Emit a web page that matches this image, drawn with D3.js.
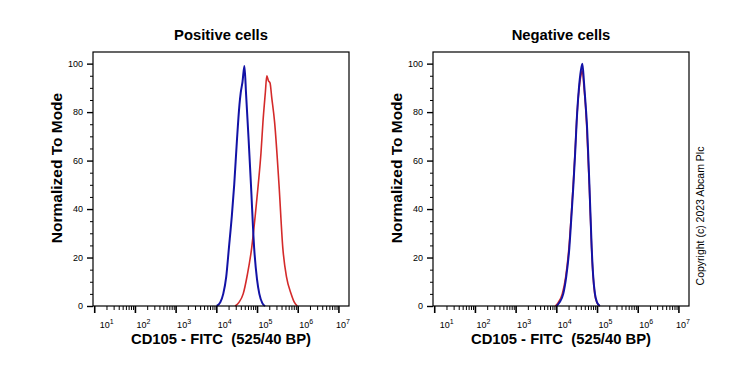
<!DOCTYPE html>
<html>
<head>
<meta charset="utf-8">
<script src="https://cdn.jsdelivr.net/npm/d3@7"></script>
<style>
  body { margin: 0; background: #fff; }
  text { font-family: "Liberation Sans", Arial, sans-serif; }
</style>
</head>
<body>
<script>
// panel titles and axis text
let titles = ['Positive cells', 'Negative cells'];
let xTitle = 'CD105 - FITC  (525/40 BP)';
let yTitle = 'Normalized To Mode';
let decades = [1, 2, 3, 4, 5, 6, 7];
let yTicks = [0, 20, 40, 60, 80, 100];

// positive cells: blue (control) and red (stained)
let posBlueX = [1.02e4, 1.25e4, 1.48e4, 1.75e4, 2.04e4, 2.4e4, 2.75e4, 3.2e4, 3.7e4, 3.98e4, 4.4e4, 4.9e4, 5.4e4, 6.2e4, 7.1e4, 8.5e4, 1.0e5, 1.14e5, 1.35e5, 1.58e5];
let posBlueY = [0, 1.5, 5, 12, 24, 37, 50, 68, 83, 88, 92.5, 99, 87, 69, 50, 24, 11, 5, 1.2, 0];
let posRedX = [2.9e4, 3.6e4, 4.57e4, 5.8e4, 7.4e4, 9.0e4, 1.07e5, 1.25e5, 1.4e5, 1.6e5, 1.74e5, 1.9e5, 2.09e5, 2.3e5, 2.7e5, 3.47e5, 4.3e5, 5.3e5, 6.9e5, 8.3e5, 9.8e5];
let posRedY = [0, 1.5, 5, 13, 24, 37, 50, 63, 76, 88, 95, 93, 92, 86, 76, 50, 24, 12, 5, 1.5, 0];

// negative cells
let negBlueX = [1.02e4, 1.2e4, 1.48e4, 1.75e4, 2.09e4, 2.35e4, 2.63e4, 2.9e4, 3.16e4, 3.6e4, 4.0e4, 4.37e4, 4.8e4, 5.2e4, 5.6e4, 6.5e4, 7.4e4, 8.0e4, 8.9e4, 1.0e5, 1.18e5];
let negBlueY = [0, 1.5, 5, 12, 24, 37, 50, 63, 76, 90, 97, 100, 92, 84, 76, 50, 24, 13, 5, 1.5, 0];
let negRedX = [9.4e3, 1.12e4, 1.4e4, 1.7e4, 2.04e4, 2.32e4, 2.6e4, 2.88e4, 3.15e4, 3.6e4, 4.0e4, 4.37e4, 4.8e4, 5.2e4, 5.55e4, 6.45e4, 7.35e4, 7.95e4, 8.8e4, 9.9e4, 1.16e5];
let negRedY = [0, 1.5, 5, 12, 24, 37, 50, 63, 76, 89, 95, 97, 90, 83, 75, 50, 24, 13, 5, 1.5, 0];

let panels = [
    {title: titles[0], red: d3.zip(posRedX, posRedY), blue: d3.zip(posBlueX, posBlueY), dx: 0},
    {title: titles[1], red: d3.zip(negRedX, negRedY), blue: d3.zip(negBlueX, negBlueY), dx: 340}
];

let svg = d3.select('body').append('svg')
    .attr('width', 739)
    .attr('height', 370);

let plotL = 93, plotR = 349, plotT = 52, plotB = 306;

let x = d3.scaleLog()
    .domain([Math.pow(10, 0.97), Math.pow(10, 7.26)])
    .range([plotL, plotR]);
let y = d3.scaleLinear()
    .domain([0, 104.8])
    .range([plotB, plotT]);

let minorX = [];
decades.concat([0]).forEach(function (d) {
    for (let m = 2; m <= 9; m++) {
        let v = m * Math.pow(10, d);
        if (v > x.domain()[0] && v < x.domain()[1]) minorX.push(v);
    }
});
let minorY = d3.range(0, 105, 5).filter(function (d) { return d % 20 !== 0; });

let line = d3.line()
    .x(function (d) { return x(d[0]); })
    .y(function (d) { return y(d[1]); })
    .curve(d3.curveMonotoneX);

panels.forEach(function (p) {
    let g = svg.append('g')
        .attr('transform', 'translate(' + p.dx + ',0)');

    g.append('text')
        .attr('x', (plotL + plotR) / 2)
        .attr('y', 40)
        .attr('text-anchor', 'middle')
        .style('font-weight', 'bold')
        .style('font-size', '14.8px')
        .text(p.title);

    // y axis
    let ya = g.append('g')
        .attr('transform', 'translate(' + plotL + ',0)')
        .call(d3.axisLeft(y).tickValues(yTicks).tickSize(6).tickPadding(4));
    ya.select('.domain').remove();
    ya.selectAll('.tick line').attr('stroke-width', 1.4);
    ya.selectAll('.tick text')
        .style('font-size', '9px')
        .style('font-family', '"Liberation Sans", Arial, sans-serif');
    let yam = g.append('g')
        .attr('transform', 'translate(' + plotL + ',0)')
        .call(d3.axisLeft(y).tickValues(minorY).tickSize(3).tickFormat(''));
    yam.select('.domain').remove();

    // x axis
    let xa = g.append('g')
        .attr('transform', 'translate(0,' + plotB + ')')
        .call(d3.axisBottom(x).tickValues(decades.map(function (d) { return Math.pow(10, d); }))
            .tickSize(7).tickFormat(''));
    xa.select('.domain').remove();
    xa.selectAll('.tick line').attr('stroke-width', 1.6);
    let shift = [5, 1, 1, 1, 1, 1, -3];
    xa.selectAll('.tick').each(function (d, i) {
        let t = d3.select(this).append('text')
            .attr('x', shift[i])
            .attr('y', 22)
            .attr('fill', '#000')
            .attr('text-anchor', 'start')
            .style('font-size', '9px');
        t.append('tspan').text('10');
        t.append('tspan').attr('dy', -4).style('font-size', '7px').text(decades[i]);
    });
    let xam = g.append('g')
        .attr('transform', 'translate(0,' + plotB + ')')
        .call(d3.axisBottom(x).tickValues(minorX).tickSize(4).tickFormat(''));
    xam.select('.domain').remove();

    // histograms
    g.append('path')
        .datum(p.red)
        .attr('fill', 'none')
        .attr('stroke', '#d42a2a')
        .attr('stroke-width', 1.6)
        .attr('d', line);
    g.append('path')
        .datum(p.blue)
        .attr('fill', 'none')
        .attr('stroke', '#1212a6')
        .attr('stroke-width', 2)
        .attr('d', line);

    // frame
    g.append('rect')
        .attr('x', plotL)
        .attr('y', plotT)
        .attr('width', plotR - plotL)
        .attr('height', plotB - plotT)
        .attr('fill', 'none')
        .attr('stroke', '#000')
        .attr('stroke-width', 1.2);

    g.append('text')
        .attr('x', (plotL + plotR) / 2)
        .attr('y', 344)
        .attr('text-anchor', 'middle')
        .attr('xml:space', 'preserve')
        .style('white-space', 'pre')
        .style('font-weight', 'bold')
        .style('font-size', '14.8px')
        .text(xTitle);

    g.append('text')
        .attr('transform', 'translate(62,168) rotate(-90)')
        .attr('text-anchor', 'middle')
        .style('font-weight', 'bold')
        .style('font-size', '15.5px')
        .text(yTitle);
});

svg.append('text')
    .attr('transform', 'translate(704,216) rotate(-90)')
    .attr('text-anchor', 'middle')
    .style('font-size', '10.5px')
    .text('Copyright (c) 2023 Abcam Plc');
</script>
</body>
</html>
